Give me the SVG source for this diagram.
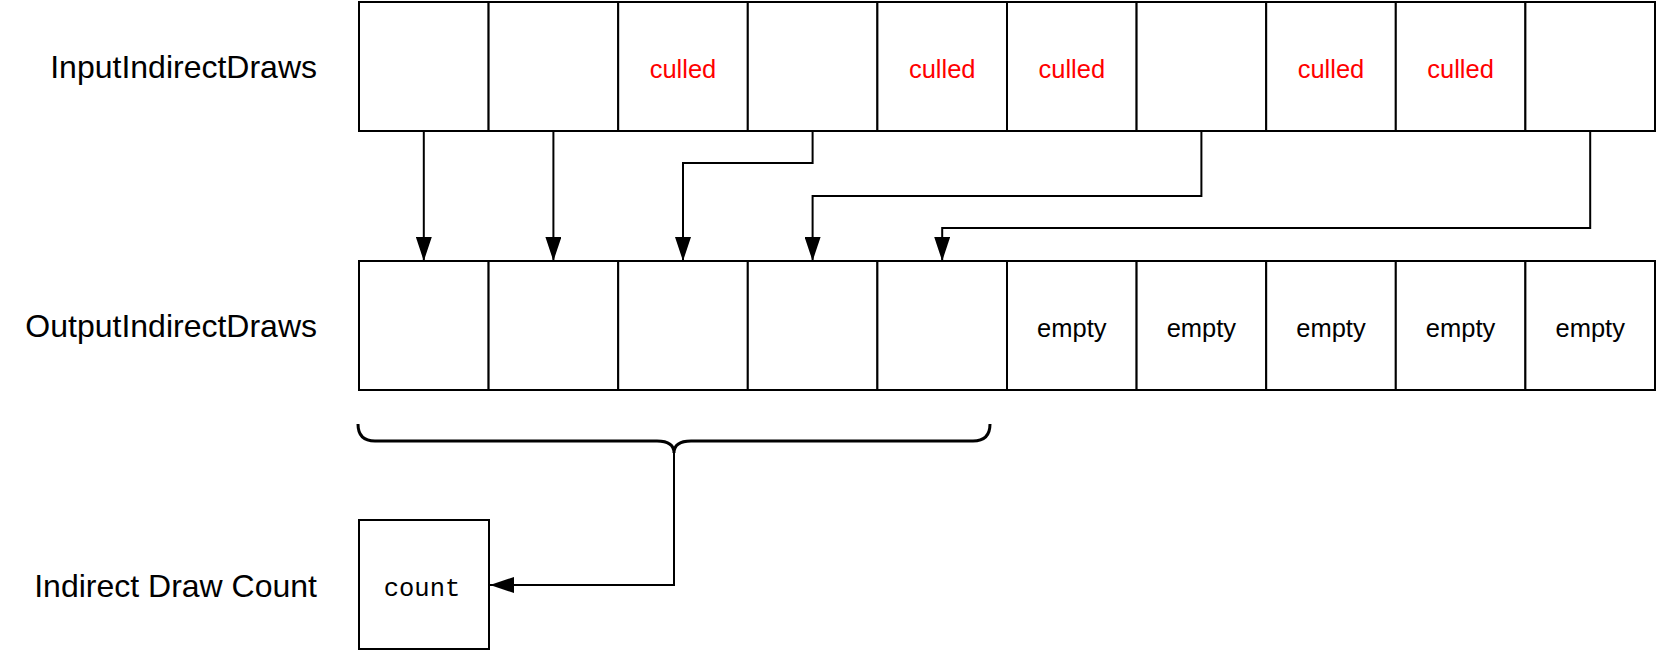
<svg xmlns="http://www.w3.org/2000/svg" width="1657" height="651" viewBox="0 0 1657 651">
<style>
.cell{fill:#fff;stroke:#000;stroke-width:2}
.lbl{font-family:"Liberation Sans",Arial,sans-serif;font-size:32px;fill:#000;text-anchor:end}
.ct{font-family:"Liberation Sans",Arial,sans-serif;font-size:25.5px;text-anchor:middle}
.culled{fill:#ff0000}
.empty{fill:#000}
.mono{font-family:"Liberation Mono","Courier New",monospace;font-size:25.5px;fill:#000;text-anchor:middle}
.conn{fill:none;stroke:#000;stroke-width:2}
.brace{fill:none;stroke:#000;stroke-width:3}
</style>
<defs>
<marker id="arr" markerUnits="userSpaceOnUse" markerWidth="24" markerHeight="16" refX="24" refY="8" orient="auto" viewBox="0 0 24 16">
<path d="M0,0 L24,8 L0,16 z" fill="#000"/>
</marker>
</defs>
<rect width="1657" height="651" fill="#fff"/>

<g id="labels">
<text class="lbl" x="317" y="78">InputIndirectDraws</text>
<text class="lbl" x="317" y="337">OutputIndirectDraws</text>
<text class="lbl" x="317" y="597">Indirect Draw Count</text>
</g>

<g id="input">
<g id="in0"><rect class="cell" x="359" y="2" width="129.6" height="129"/></g>
<g id="in1"><rect class="cell" x="488.6" y="2" width="129.6" height="129"/></g>
<g id="in2"><rect class="cell" x="618.2" y="2" width="129.6" height="129"/><text class="ct culled" x="683" y="77.5">culled</text></g>
<g id="in3"><rect class="cell" x="747.8" y="2" width="129.6" height="129"/></g>
<g id="in4"><rect class="cell" x="877.4" y="2" width="129.6" height="129"/><text class="ct culled" x="942.2" y="77.5">culled</text></g>
<g id="in5"><rect class="cell" x="1007" y="2" width="129.6" height="129"/><text class="ct culled" x="1071.8" y="77.5">culled</text></g>
<g id="in6"><rect class="cell" x="1136.6" y="2" width="129.6" height="129"/></g>
<g id="in7"><rect class="cell" x="1266.2" y="2" width="129.6" height="129"/><text class="ct culled" x="1331" y="77.5">culled</text></g>
<g id="in8"><rect class="cell" x="1395.8" y="2" width="129.6" height="129"/><text class="ct culled" x="1460.6" y="77.5">culled</text></g>
<g id="in9"><rect class="cell" x="1525.4" y="2" width="129.6" height="129"/></g>
</g>

<g id="output">
<g id="out0"><rect class="cell" x="359" y="261" width="129.6" height="129"/></g>
<g id="out1"><rect class="cell" x="488.6" y="261" width="129.6" height="129"/></g>
<g id="out2"><rect class="cell" x="618.2" y="261" width="129.6" height="129"/></g>
<g id="out3"><rect class="cell" x="747.8" y="261" width="129.6" height="129"/></g>
<g id="out4"><rect class="cell" x="877.4" y="261" width="129.6" height="129"/></g>
<g id="out5"><rect class="cell" x="1007" y="261" width="129.6" height="129"/><text class="ct empty" x="1071.8" y="337">empty</text></g>
<g id="out6"><rect class="cell" x="1136.6" y="261" width="129.6" height="129"/><text class="ct empty" x="1201.4" y="337">empty</text></g>
<g id="out7"><rect class="cell" x="1266.2" y="261" width="129.6" height="129"/><text class="ct empty" x="1331" y="337">empty</text></g>
<g id="out8"><rect class="cell" x="1395.8" y="261" width="129.6" height="129"/><text class="ct empty" x="1460.6" y="337">empty</text></g>
<g id="out9"><rect class="cell" x="1525.4" y="261" width="129.6" height="129"/><text class="ct empty" x="1590.2" y="337">empty</text></g>
</g>

<g id="count"><rect class="cell" x="359" y="520" width="130" height="129"/><text class="mono" x="422" y="596">count</text></g>

<g id="brace"><path class="brace" d="M358,424 Q358,441 375,441 L657,441 Q674,441 674,453 Q674,441 691,441 L973,441 Q990,441 990,424"/></g>

<g id="connectors">
<path class="conn" d="M423.8,131 L423.8,261" marker-end="url(#arr)"/>
<path class="conn" d="M553.4,131 L553.4,261" marker-end="url(#arr)"/>
<path class="conn" d="M812.6,131 L812.6,163 L683,163 L683,261" marker-end="url(#arr)"/>
<path class="conn" d="M1201.4,131 L1201.4,196 L812.6,196 L812.6,261" marker-end="url(#arr)"/>
<path class="conn" d="M1590.2,131 L1590.2,228 L942.2,228 L942.2,261" marker-end="url(#arr)"/>
<path class="conn" d="M674,453 L674,585 L490,585" marker-end="url(#arr)"/>
</g>
</svg>
